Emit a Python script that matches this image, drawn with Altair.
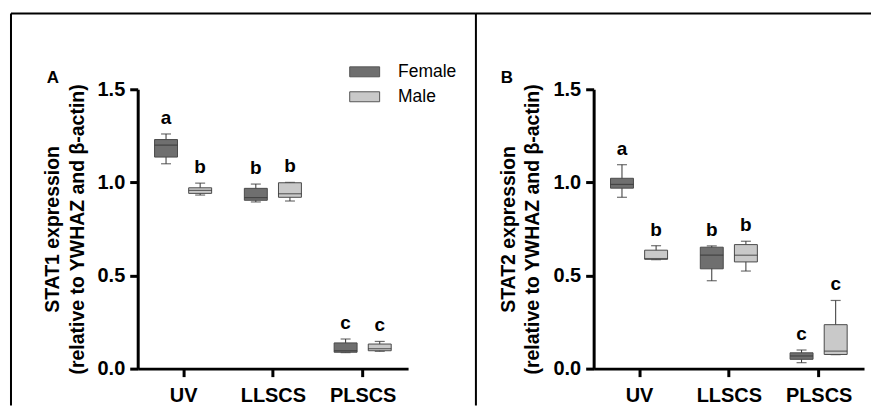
import json
import altair as alt
import pandas as pd

# ---------------- data ----------------
categories = ["UV", "LLSCS", "PLSCS"]
sexes = ["Female", "Male"]
sex_colors = ["#6f6f6f", "#c9c9c9"]

# order: UV-F, UV-M, LLSCS-F, LLSCS-M, PLSCS-F, PLSCS-M
stat1_min = [1.100, 0.932, 0.895, 0.900, 0.086, 0.093]
stat1_q1 = [1.136, 0.941, 0.904, 0.920, 0.088, 0.096]
stat1_med = [1.200, 0.957, 0.918, 0.939, 0.096, 0.107]
stat1_q3 = [1.230, 0.971, 0.968, 0.998, 0.138, 0.132]
stat1_max = [1.260, 0.996, 0.991, 1.000, 0.159, 0.146]
stat1_letters = ["a", "b", "b", "b", "c", "c"]

stat2_min = [0.920, 0.585, 0.472, 0.524, 0.032, 0.075]
stat2_q1 = [0.969, 0.587, 0.536, 0.573, 0.050, 0.076]
stat2_med = [0.989, 0.591, 0.609, 0.609, 0.068, 0.094]
stat2_q3 = [1.022, 0.636, 0.652, 0.666, 0.085, 0.236]
stat2_max = [1.095, 0.660, 0.659, 0.684, 0.100, 0.366]
stat2_letters = ["a", "b", "b", "b", "c", "c"]

FONT = "Liberation Sans"
GROUP_OFFSET = 0.19


def build_df(lo, q1, med, q3, hi, letters):
    rows = []
    k = 0
    for ci, cat in enumerate(categories):
        for si, sex in enumerate(sexes):
            rows.append({
                "category": cat, "sex": sex,
                "xpos": ci + (-GROUP_OFFSET if si == 0 else GROUP_OFFSET),
                "lo": lo[k], "q1": q1[k], "med": med[k], "q3": q3[k], "hi": hi[k],
                "letter": letters[k],
            })
            k += 1
    return pd.DataFrame(rows)


one = pd.DataFrame({"k": [0]})
label_expr = json.dumps(categories) + "[datum.value]"


def make_panel(df, title_lines, panel_letter, show_legend, frame):
    xenc = alt.X("xpos:Q",
                 scale=alt.Scale(domain=[-0.45, 2.45], nice=False, zero=False),
                 axis=alt.Axis(values=[0, 1, 2], labelExpr=label_expr, title=None,
                               labelPadding=9))
    yscale = alt.Scale(domain=[0, 1.5], nice=False)
    base = alt.Chart(df)

    whisk = base.mark_rule(color="#333333", strokeWidth=1).encode(
        x=xenc,
        y=alt.Y("lo:Q", scale=yscale,
                axis=alt.Axis(values=[0, 0.5, 1.0, 1.5], format=".1f",
                              title=title_lines, titlePadding=10,
                              titleLineHeight=25, labelPadding=5)),
        y2="hi:Q",
    )
    legend = alt.Legend(orient="none", legendX=212, legendY=-33, title=None,
                        symbolType="M-1,-0.333H1V0.333H-1Z", symbolSize=900,
                        symbolStrokeColor="#555555", symbolStrokeWidth=1,
                        labelFont=FONT, labelFontSize=17.5, labelFontWeight="normal",
                        labelOffset=18, rowPadding=1, padding=0,
                        symbolOpacity=1) if show_legend else None
    box = base.mark_bar(size=23, stroke="#4a4a4a", strokeWidth=1, opacity=1).encode(
        x=xenc, y=alt.Y("q1:Q", scale=yscale), y2="q3:Q",
        fill=alt.Fill("sex:N", scale=alt.Scale(domain=sexes, range=sex_colors),
                      legend=legend),
    )
    median = base.mark_tick(orient="horizontal", size=23, thickness=1.2,
                            color="#333333").encode(
        x=xenc, y=alt.Y("med:Q", scale=yscale))
    cap_lo = base.mark_tick(orient="horizontal", size=10, thickness=1.2,
                            color="#333333").encode(
        x=xenc, y=alt.Y("lo:Q", scale=yscale))
    cap_hi = base.mark_tick(orient="horizontal", size=10, thickness=1.2,
                            color="#333333").encode(
        x=xenc, y=alt.Y("hi:Q", scale=yscale))
    sig = base.mark_text(dy=-16, font=FONT, fontSize=19, fontWeight="bold",
                         baseline="middle", color="black").encode(
        x=xenc, y=alt.Y("hi:Q", scale=yscale), text="letter:N")
    plab = alt.Chart(one).mark_text(font=FONT, fontSize=17, fontWeight="bold",
                                    baseline="middle", color="black").encode(
        x=alt.value(frame["letter_x"]), y=alt.value(-11), text=alt.value(panel_letter))
    vline = alt.Chart(one).mark_rule(color="black", strokeWidth=2).encode(
        x=alt.value(frame["left"]), y=alt.value(-76), y2=alt.value(317))
    hline = alt.Chart(one).mark_rule(color="black", strokeWidth=2).encode(
        x=alt.value(frame["left"]), x2=alt.value(frame["right"]), y=alt.value(-76))
    return alt.layer(whisk, cap_lo, cap_hi, box, median, sig, plab, vline, hline).properties(
        width=271, height=280)


df1 = build_df(stat1_min, stat1_q1, stat1_med, stat1_q3, stat1_max, stat1_letters)
df2 = build_df(stat2_min, stat2_q1, stat2_med, stat2_q3, stat2_max, stat2_letters)

panelA = make_panel(df1, ["STAT1 expression", "(relative to YWHAZ and β-actin)"], "A",
                    True, {"left": -127, "right": 339, "letter_x": -85})
panelB = make_panel(df2, ["STAT2 expression", "(relative to YWHAZ and β-actin)"], "B",
                    False, {"left": -118, "right": 278, "letter_x": -87})

chart = alt.hconcat(panelA, panelB, spacing=186, bounds="flush").resolve_legend(
    fill="independent"
).properties(
    padding={"left": 2, "top": 4, "right": 0, "bottom": 0},
    background="white",
).configure_view(stroke=None).configure_axis(
    grid=False,
    domainColor="black", domainWidth=3,
    tickColor="black", tickWidth=3, tickSize=8,
    labelFont=FONT, labelFontSize=20, labelFontWeight="bold", labelColor="black",
    titleFont=FONT, titleFontSize=19.5, titleFontWeight="bold", titleColor="black",
)

chart.save("out.html", embed_options={"renderer": "svg", "actions": False})
